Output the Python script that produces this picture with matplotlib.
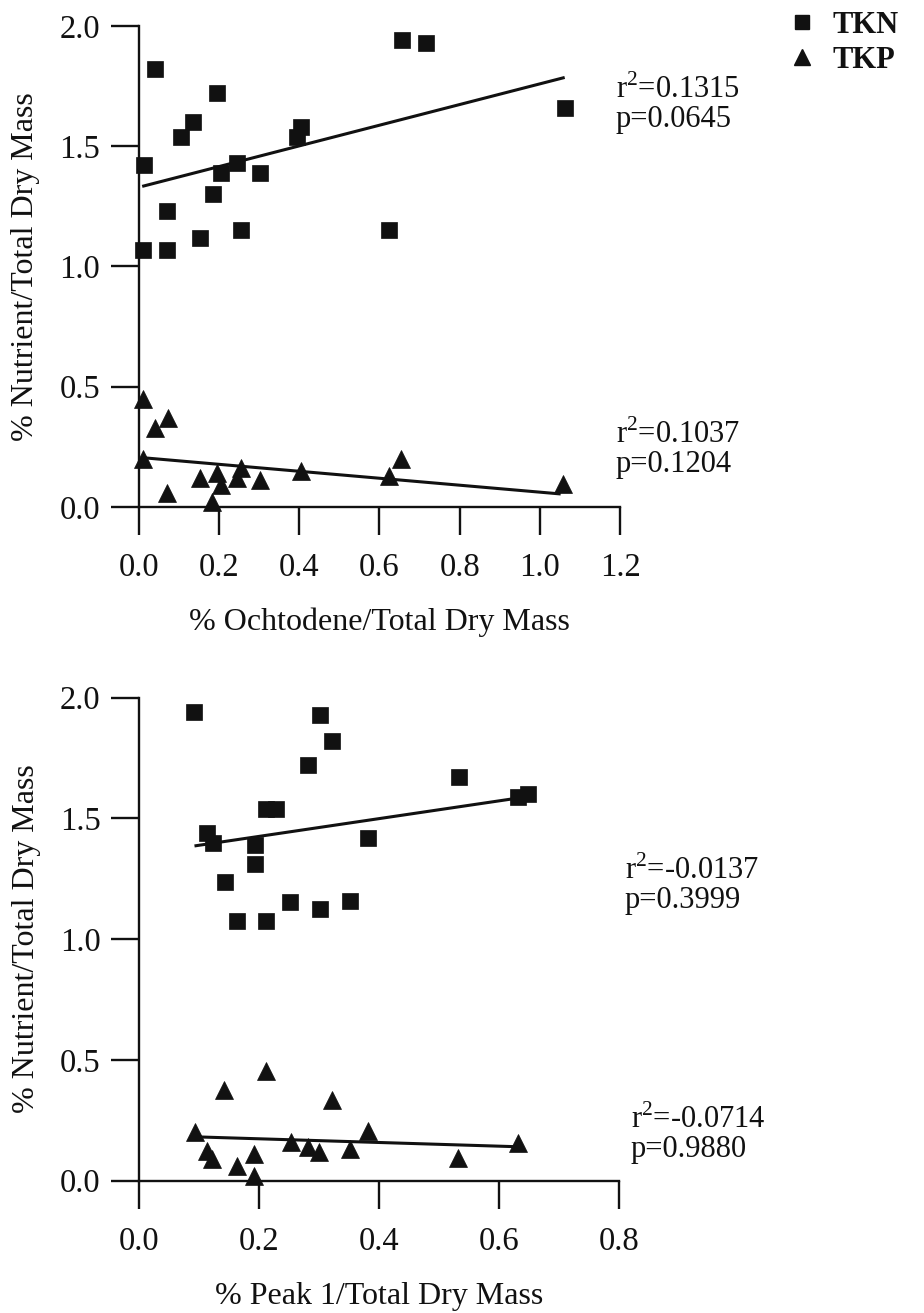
import matplotlib
matplotlib.use("Agg")
import matplotlib.pyplot as plt
from matplotlib.lines import Line2D

plt.rcParams['font.family'] = ['Liberation Serif', 'DejaVu Serif']
plt.rcParams['mathtext.fontset'] = 'custom'
plt.rcParams['mathtext.rm'] = 'Liberation Serif'

# ---- Data: top panel (% Ochtodene) ----
och_tkn_x = [0.04, 0.195, 0.134, 0.104, 0.405, 0.395, 0.0125, 0.205, 0.244, 0.303,
             0.184, 0.071, 0.255, 0.153, 0.010, 0.071, 0.624, 0.655, 0.716, 1.062]
och_tkn_y = [1.82, 1.72, 1.60, 1.54, 1.58, 1.54, 1.42, 1.39, 1.43, 1.39,
             1.30, 1.23, 1.15, 1.12, 1.07, 1.07, 1.15, 1.94, 1.93, 1.66]
och_tkp_x = [0.010, 0.040, 0.073, 0.010, 0.071, 0.153, 0.194, 0.205, 0.182, 0.255,
             0.244, 0.303, 0.403, 0.624, 0.653, 1.059]
och_tkp_y = [0.45, 0.33, 0.37, 0.20, 0.06, 0.12, 0.14, 0.09, 0.02, 0.16,
             0.12, 0.11, 0.15, 0.13, 0.20, 0.095]
och_fit_tkn_x = [0.008, 1.062]
och_fit_tkn_y = [1.333, 1.786]
och_fit_tkp_x = [0.008, 1.052]
och_fit_tkp_y = [0.205, 0.054]
och_stats = ["r$^2$=0.1315\np=0.0645", "r$^2$=0.1037\np=0.1204"]

# ---- Data: bottom panel (% Peak 1) ----
pk_tkn_x = [0.092, 0.302, 0.322, 0.281, 0.533, 0.649, 0.632, 0.212, 0.228, 0.113,
            0.123, 0.193, 0.382, 0.193, 0.143, 0.163, 0.212, 0.252, 0.302, 0.352]
pk_tkn_y = [1.94, 1.93, 1.82, 1.72, 1.67, 1.60, 1.59, 1.54, 1.54, 1.44,
            1.40, 1.39, 1.42, 1.31, 1.235, 1.075, 1.075, 1.155, 1.125, 1.16]
pk_tkp_x = [0.2115, 0.142, 0.321, 0.093, 0.381, 0.631, 0.253, 0.281, 0.300, 0.351,
            0.1125, 0.122, 0.191, 0.163, 0.191, 0.532]
pk_tkp_y = [0.455, 0.375, 0.333, 0.202, 0.205, 0.154, 0.161, 0.140, 0.119, 0.129,
            0.123, 0.088, 0.110, 0.060, 0.020, 0.092]
pk_fit_tkn_x = [0.092, 0.647]
pk_fit_tkn_y = [1.386, 1.590]
pk_fit_tkp_x = [0.093, 0.630]
pk_fit_tkp_y = [0.181, 0.140]
pk_stats = ["r$^2$=-0.0137\np=0.3999", "r$^2$=-0.0714\np=0.9880"]

y_ticks = [0.0, 0.5, 1.0, 1.5, 2.0]
top_xticks = [0.0, 0.2, 0.4, 0.6, 0.8, 1.0, 1.2]
bot_xticks = [0.0, 0.2, 0.4, 0.6, 0.8]
series_names = ["TKN", "TKP"]

INK = "#111111"
TICK_FS = 23.5
LABEL_FS = 23
STAT_FS = 22

fig = plt.figure(figsize=(9.24, 13.13), dpi=100)
ax1 = fig.add_axes([0.1504, 0.6139, 0.5206, 0.3663])
ax2 = fig.add_axes([0.1508, 0.1009, 0.5190, 0.3677])


def style(ax, xticks, xlabel):
    for s in ["top", "right"]:
        ax.spines[s].set_visible(False)
    for s in ["left", "bottom"]:
        ax.spines[s].set_linewidth(1.7)
        ax.spines[s].set_color(INK)
    ax.set_xlim(xticks[0], xticks[-1])
    ax.set_ylim(0, 2.0)
    ax.set_xticks(xticks)
    ax.set_yticks(y_ticks)
    ax.set_xticklabels([f"{t:.1f}" for t in xticks])
    ax.set_yticklabels([f"{t:.1f}" for t in y_ticks])
    ax.tick_params(direction="out", length=20, width=1.7, colors=INK,
                   labelsize=TICK_FS)
    ax.tick_params(axis="x", pad=13)
    ax.tick_params(axis="y", pad=8)
    ax.set_xlabel(xlabel, fontsize=LABEL_FS, color=INK)
    ax.set_ylabel("% Nutrient/Total Dry Mass", fontsize=LABEL_FS, color=INK)
    ax.xaxis.set_label_coords(0.5, -0.21)
    ax.yaxis.set_label_coords(-0.205, 0.5)


def draw(ax, tx, ty, px, py, ftx, fty, fpx, fpy):
    ax.plot(ftx, fty, color=INK, lw=2.2, solid_capstyle="butt")
    ax.plot(fpx, fpy, color=INK, lw=2.2, solid_capstyle="butt")
    ax.plot(tx, ty, ls="none", marker="s", ms=12, color=INK, mew=0.5, clip_on=False)
    ax.plot(px, py, ls="none", marker="^", ms=13.5, color=INK, mew=0.5, clip_on=False)


draw(ax1, och_tkn_x, och_tkn_y, och_tkp_x, och_tkp_y,
     och_fit_tkn_x, och_fit_tkn_y, och_fit_tkp_x, och_fit_tkp_y)
style(ax1, top_xticks, "% Ochtodene/Total Dry Mass")
draw(ax2, pk_tkn_x, pk_tkn_y, pk_tkp_x, pk_tkp_y,
     pk_fit_tkn_x, pk_fit_tkn_y, pk_fit_tkp_x, pk_fit_tkp_y)
style(ax2, bot_xticks, "% Peak 1/Total Dry Mass")

# stats annotations
W, H = 924, 1313
stat_kw = dict(fontsize=STAT_FS, color=INK, va="center", ha="left", linespacing=0.98)
fig.text(616 / W, 1 - 104 / H, och_stats[0], **stat_kw)
fig.text(616 / W, 1 - 449 / H, och_stats[1], **stat_kw)
fig.text(625 / W, 1 - 885 / H, pk_stats[0], **stat_kw)
fig.text(631 / W, 1 - 1134 / H, pk_stats[1], **stat_kw)

handles = [Line2D([], [], ls="none", marker="s", ms=10.5, color=INK),
           Line2D([], [], ls="none", marker="^", ms=11.5, color=INK)]
fig.legend(handles, series_names, loc="upper left", bbox_to_anchor=(787 / W, 1 - 11 / H),
           frameon=False, prop={"size": 22, "weight": "bold"}, handlelength=1.0,
           handletextpad=0.5, labelspacing=0.2, borderaxespad=0, borderpad=0,
           labelcolor=INK)

fig.savefig("out.png", dpi=100, facecolor="white")
